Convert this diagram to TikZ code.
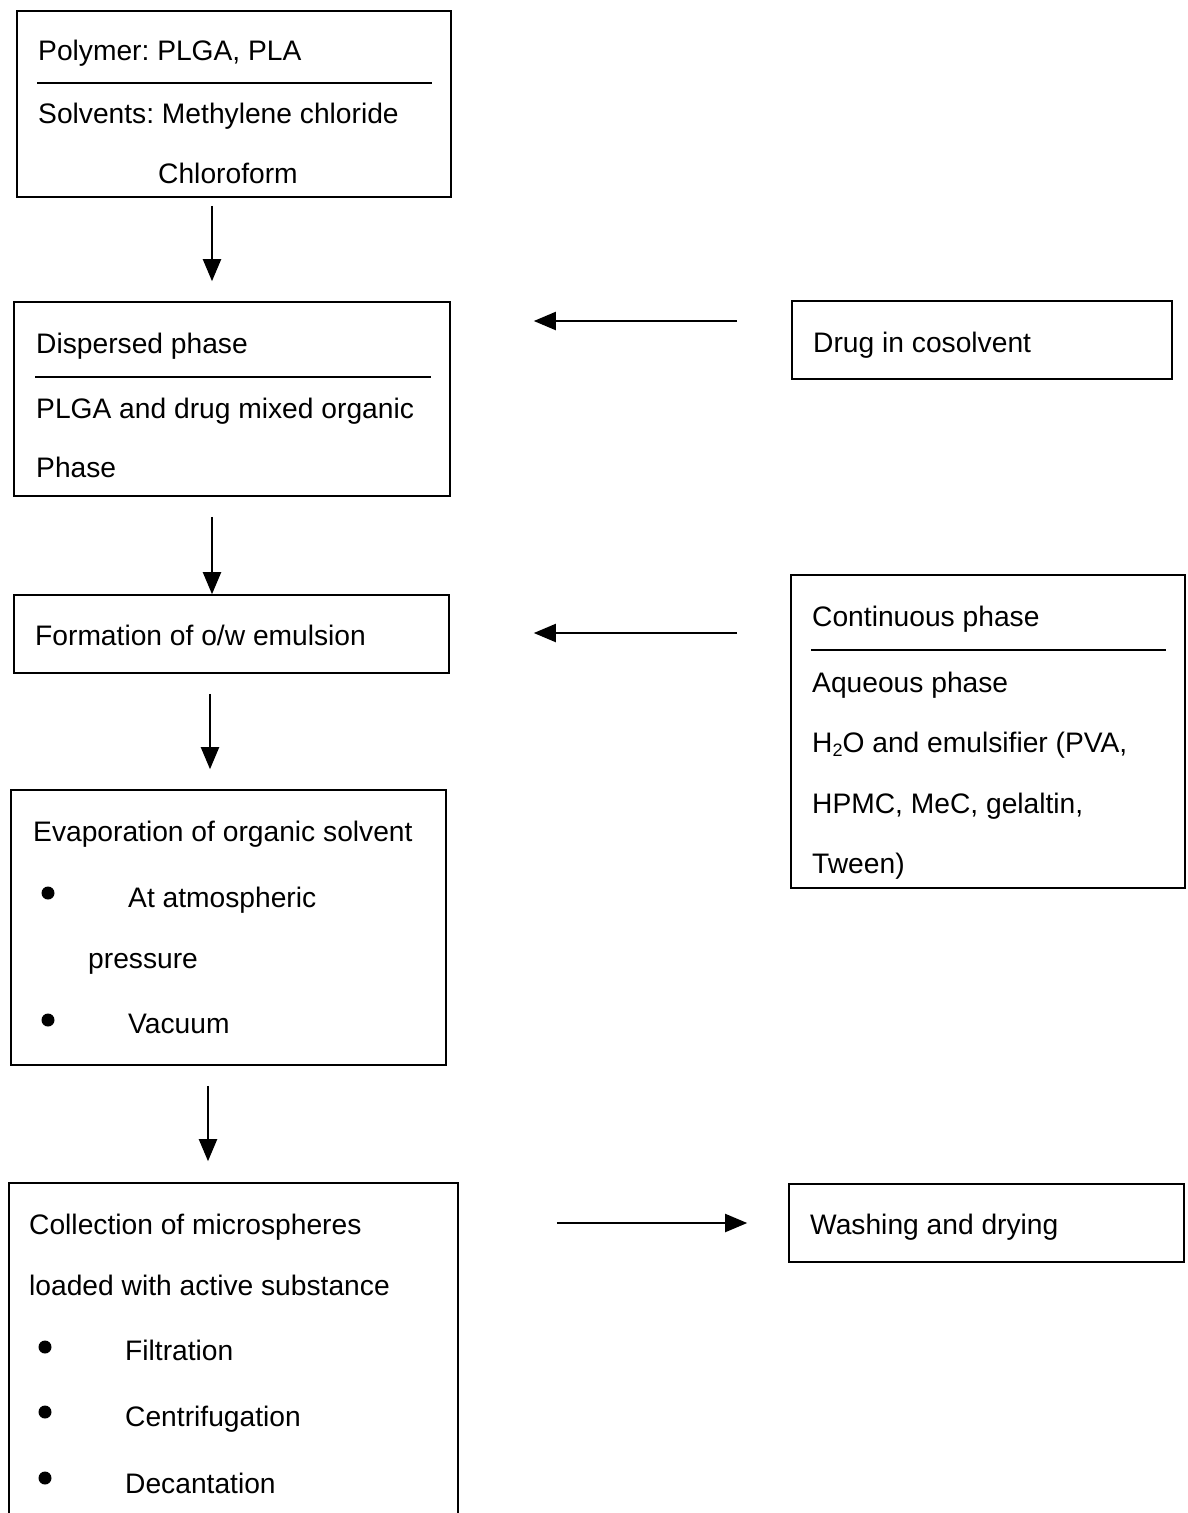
\documentclass[tikz,border=0pt]{standalone}
\usepackage{fontspec}
\setmainfont{Liberation Sans}
\usetikzlibrary{arrows.meta,calc}
\frenchspacing

\begin{document}
\begin{tikzpicture}[
  x=1pt, y=-1pt,
  box/.style={draw=black, line width=1.6pt, rectangle, inner sep=0pt},
  txt/.style={anchor=base west, inner sep=0pt,
    font=\fontsize{28.2}{33}\selectfont},
  rule/.style={draw=black, line width=1.6pt},
  flow/.style={draw=black, line width=2pt,
    -{Triangle[length=22pt,width=18pt]}},
  dot/.style={circle, fill=black, inner sep=0pt, minimum size=13pt},
]
\useasboundingbox (0,0) rectangle (1187,1513);
\clip (0,0) rectangle (1187,1513);

% === left column boxes ===
\node[box, minimum width=434pt, minimum height=186pt] (pol) at (234,104) {};
\node[box, minimum width=436pt, minimum height=194pt] (disp) at (232,399) {};
\node[box, minimum width=435pt, minimum height=78pt] (emul) at (231.5,634) {};
\node[box, minimum width=435pt, minimum height=275pt] (evap) at (228.5,927.5) {};
\node[box, minimum width=449pt, minimum height=380pt] (coll) at (233.5,1373) {};

% === right column boxes ===
\node[box, minimum width=380pt, minimum height=78pt] (drug) at (982,340) {};
\node[box, minimum width=394pt, minimum height=313pt] (cont) at (988,731.5) {};
\node[box, minimum width=395pt, minimum height=78pt] (wash) at (986.5,1223) {};

% --- texts: polymer ---
\node[txt] (pol1) at (38,60) {Polymer: PLGA, PLA};
\node[txt] (pol2) at (38,123) {Solvents: Methylene chloride};
\node[txt] (pol3) at (158,183) {Chloroform};
\draw[rule] ($(pol.west)+(21,-21)$) -- ($(pol.east)+(-20,-21)$);

% --- texts: dispersed phase ---
\node[txt] (disp1) at (36,353) {Dispersed phase};
\node[txt] (disp2) at (36,418) {PLGA and drug mixed organic};
\node[txt] (disp3) at (36,477) {Phase};
\draw[rule] ($(disp.west)+(22,-22)$) -- ($(disp.east)+(-20,-22)$);

\node[txt] (drug1) at (813,352) {Drug in cosolvent};
\node[txt] (emul1) at (35,645) {Formation of o/w emulsion};

% --- texts: continuous phase ---
\node[txt] (cont1) at (812,626) {Continuous phase};
\node[txt] (cont2) at (812,692) {Aqueous phase};
\node[txt] (cont3) at (812,752) {H\raisebox{-0.3ex}{\fontsize{18}{20}\selectfont 2}O and emulsifier (PVA,};
\node[txt] (cont4) at (812,813) {HPMC, MeC, gelaltin,};
\node[txt] (cont5) at (812,873) {Tween)};
\draw[rule] ($(cont.west)+(21,-81.5)$) -- ($(cont.east)+(-20,-81.5)$);

% --- texts: evaporation ---
\node[txt] (evap1) at (33,841) {Evaporation of organic solvent};
\node[dot] (evd1) at (48,893) {};
\node[txt] (evap2) at (128,907) {At atmospheric};
\node[txt] (evap3) at (88,968) {pressure};
\node[dot] (evd2) at (48,1020) {};
\node[txt] (evap4) at (128,1033) {Vacuum};

% --- texts: collection ---
\node[txt] (coll1) at (29,1234) {Collection of microspheres};
\node[txt] (coll2) at (29,1295) {loaded with active substance};
\node[dot] (cod1) at (45,1347) {};
\node[txt] (coll3) at (125,1360) {Filtration};
\node[dot] (cod2) at (45,1412) {};
\node[txt] (coll4) at (125,1426) {Centrifugation};
\node[dot] (cod3) at (45,1478) {};
\node[txt] (coll5) at (125,1493) {Decantation};

\node[txt] (wash1) at (810,1234) {Washing and drying};

% === arrows ===
\draw[flow] ($(pol.south)+(-22,8)$) -- ($(disp.north)+(-20,-20)$);
\draw[flow] ($(disp.south)+(-20,20)$) -- ($(emul.north)+(-19.5,0)$);
\draw[flow] ($(emul.south)+(-21.5,20)$) -- ($(evap.north)+(-18.5,-20)$);
\draw[flow] ($(evap.south)+(-20.5,20)$) -- ($(coll.north)+(-25.5,-21)$);
\draw[flow] ($(drug.west)+(-54,-19)$) -- ($(disp.east)+(83,-78)$);
\draw[flow] ($(cont.west)+(-53,-98.5)$) -- ($(emul.east)+(84,-1)$);
\draw[flow] ($(coll.east)+(98,-150)$) -- ($(wash.west)+(-41,0)$);

\end{tikzpicture}
\end{document}
